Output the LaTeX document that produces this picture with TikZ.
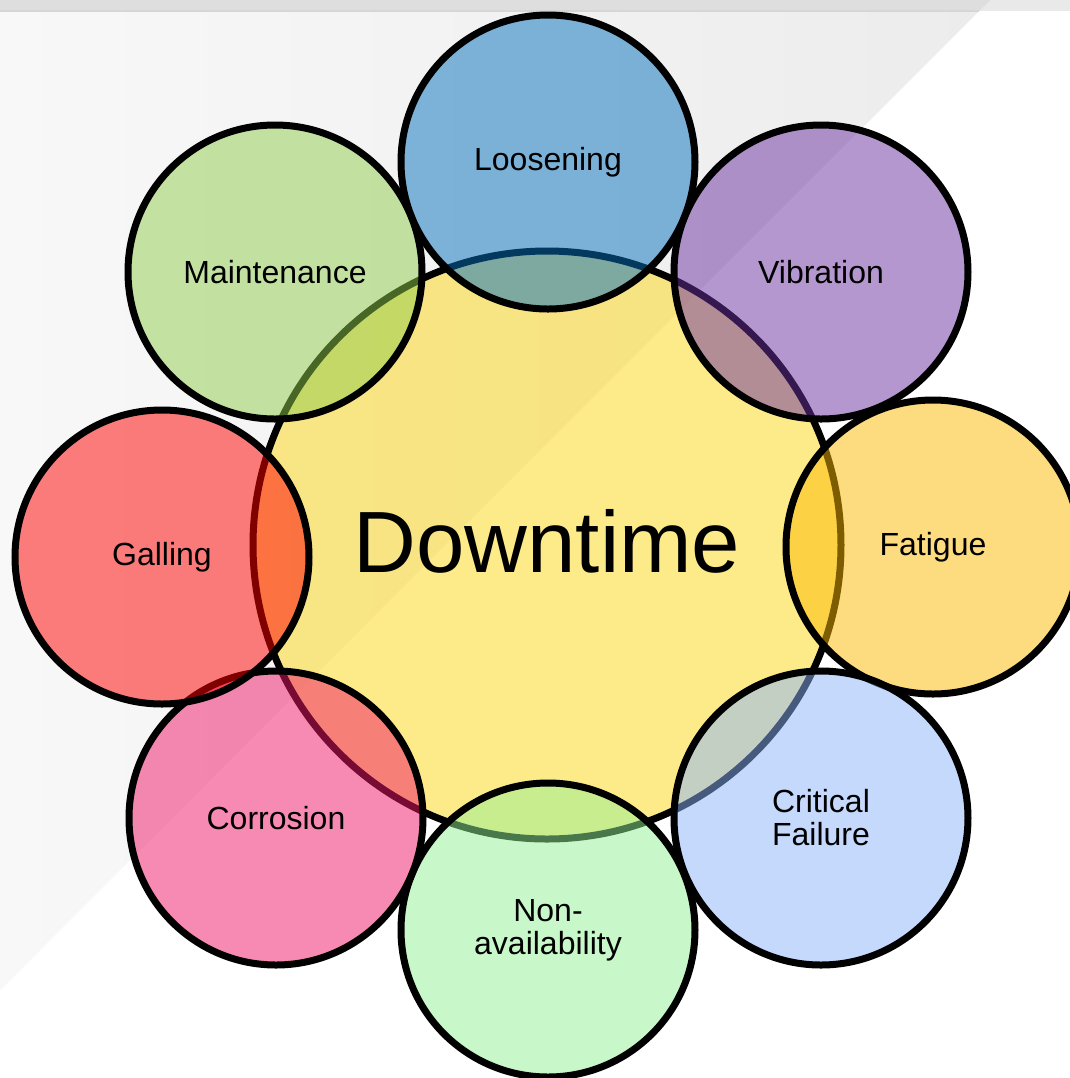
\documentclass[tikz,border=0pt]{standalone}
\usepackage{fontspec}
\setmainfont{Liberation Sans}
\usepackage{xcolor}
\usepackage{tikz}
\usetikzlibrary{shapes}

\definecolor{bandleft}{HTML}{DEDEDE}
\definecolor{bandright}{HTML}{E9E9E9}
\definecolor{bandshadow}{HTML}{D6D6D6}
\definecolor{paneleft}{HTML}{F8F8F8}
\definecolor{paneright}{HTML}{ECECEC}
\definecolor{downfill}{RGB}{253,215,21}
\definecolor{loosefill}{RGB}{6,112,190}
\definecolor{vibfill}{RGB}{107,49,161}
\definecolor{fatfill}{RGB}{253,185,1}
\definecolor{critfill}{RGB}{139,181,251}
\definecolor{nonfill}{RGB}{147,241,149}
\definecolor{corrfill}{RGB}{241,23,103}
\definecolor{gallfill}{RGB}{255,0,0}
\definecolor{maintfill}{RGB}{145,205,75}

\begin{document}
\begin{tikzpicture}[x=0.5pt, y=-0.5pt,
    bubble/.style={circle, draw, line width=3.5pt, fill opacity=0.5, text opacity=1,
        minimum size=147pt, inner sep=0pt, align=center,
        font=\fontsize{16pt}{16.5pt}\selectfont},
    hub/.style={bubble, minimum size=294pt, text height=27pt, text depth=0pt,
        font=\fontsize{43.5pt}{45pt}\selectfont}]
    \useasboundingbox (0,0) rectangle (1070,1078);
    \fill [white] (0,0) rectangle (1070,1078);
    \shade [left color=paneleft, right color=paneright] (0,0) -- (990,0) -- (0,990) -- cycle;
    \fill [bandright] (0,0) rectangle (1070,11);
    \fill [bandleft] (0,0) -- (990,0) -- (979,11) -- (0,11) -- cycle;
    \fill [bandshadow] (0,10) rectangle (979,12);

    \node (downtime) [hub, fill=downfill] at (547,545) {Downtime};

    \node (loosening) [bubble, fill=loosefill] at (548,162) {Loosening};
    \node (vibration) [bubble, fill=vibfill] at (821,272) {Vibration};
    \node (fatigue) [bubble, fill=fatfill] at (933,547) {Fatigue};
    \node (critical) [bubble, fill=critfill] at (821,818) {Critical\\Failure};
    \node (nonavail) [bubble, fill=nonfill] at (548,930) {Non-\\availability};
    \node (corrosion) [bubble, fill=corrfill] at (276,818) {Corrosion};
    \node (galling) [bubble, fill=gallfill] at (162,557) {Galling};
    \node (maintenance) [bubble, fill=maintfill] at (275,272) {Maintenance};
\end{tikzpicture}
\end{document}
